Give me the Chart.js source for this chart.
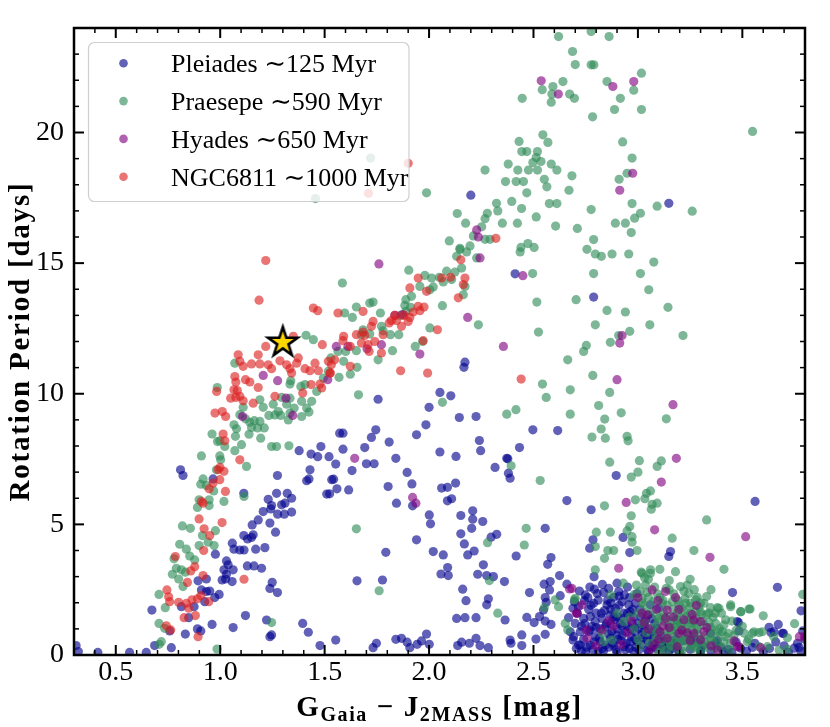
<!DOCTYPE html>
<html><head><meta charset="utf-8">
<script src="https://cdn.jsdelivr.net/npm/chart.js@4.4.1/dist/chart.umd.min.js"></script>
<style>html,body{margin:0;padding:0;background:#fff;}canvas{display:block;}</style>
</head><body>
<canvas id="c" width="830" height="727"></canvas>
<script>
// ---------- DATA ----------
const clusterLabels = ['Pleiades \u223C125 Myr', 'Praesepe \u223C590 Myr', 'Hyades \u223C650 Myr', 'NGC6811 \u223C1000 Myr'];
const yTitle = 'Rotation Period [days]';

// [G-J colour (mag), rotation period (days)]
const pleiades = [
[2.20,17.60],[3.148,17.29],[1.378,7.82],[1.435,7.69],[1.467,7.59],[1.482,7.98],[1.521,7.59],
[2.412,14.59],[2.172,11.21],[2.167,11.01],[2.052,10.05],[2.104,9.92],[2.0,9.48],[2.145,9.09],[2.225,9.13],[1.985,8.81],[1.94,8.43],[1.809,8.15],[1.756,9.79],[1.572,8.49],[1.588,8.49],[1.724,8.33],[1.745,8.62],[1.692,7.94],[1.588,7.88],[1.841,7.53],[2.052,7.77],[2.129,7.6],[2.241,8.21],[2.247,7.82],[2.372,7.53],[2.433,7.94],[2.497,8.62],[2.616,8.59],
[2.788,13.7],
[0.81,7.09],[0.822,6.87],[0.966,6.74],[1.274,6.87],[1.43,7.09],[1.425,6.74],[1.414,6.67],[1.534,6.71],[1.51,6.16],[1.113,6.19],[1.27,6.19],[1.321,6.19],[1.342,6.0],[1.31,5.81],[1.294,5.75],[1.23,5.96],[1.246,5.72],[1.242,5.59],[1.206,5.49],[1.275,5.39],[1.307,5.39],[1.342,5.47],[1.182,5.17],[1.153,4.98],[1.238,5.05],[1.265,4.7],[1.113,4.57],[1.131,4.44],[1.158,4.6],[1.15,4.5],[1.058,4.28],[1.066,4.05],[1.094,4.02],[1.114,4.02],[1.17,4.05],[1.214,4.11],[0.977,3.86],[1.03,3.6],[1.038,3.45],[1.018,3.26],[1.062,3.26],[1.03,3.09],[1.009,2.87],[1.026,2.91],[1.057,2.81],[1.13,3.41],[1.162,3.41],[1.198,3.32],[1.249,2.78],[1.238,2.55],[1.274,2.39],[0.894,2.84],[0.934,2.91],[0.91,2.49],[0.934,2.43],[0.95,2.45],[0.995,2.32],[0.974,2.2],[0.926,2.04],[0.814,1.85],[0.875,1.85],[0.673,1.72],[0.849,1.43],[1.121,1.51],[0.961,1.17],[1.062,1.05],[1.222,1.34],[0.891,1.0],[0.907,0.92],[0.833,0.8],[0.758,0.92],[1.246,0.77],[1.238,0.7],[1.395,1.21],[1.422,0.87],[1.478,0.36],[0.686,0.36],[0.766,0.28],[0.31,0.36],[0.321,0.13],[0.414,0.1],[0.566,0.1],[0.646,0.1],
[1.553,7.31],[1.631,7.06],[1.7,7.32],[1.737,7.32],[1.543,6.73],[1.559,6.36],[1.615,6.32],[1.524,6.17],[1.804,6.45],[1.844,5.81],[1.895,6.99],[1.918,6.55],[1.921,5.71],[2.06,6.39],[2.088,6.42],[2.127,6.58],[2.088,5.9],[2.108,5.98],[2.001,5.36],[2.007,5.02],[1.94,4.41],[1.793,3.93],[2.02,3.96],[2.068,3.83],[2.152,5.34],[2.209,5.52],[2.209,5.2],[2.204,4.85],[2.257,5.11],[2.152,4.64],[2.169,4.25],[2.185,3.83],[2.216,3.98],[2.297,4.51],[2.324,4.62],[2.26,3.45],[2.233,3.09],[2.276,3.04],[2.308,3.0],[2.361,2.81],[2.089,3.35],[2.057,3.1],[2.092,3.04],[1.655,2.84],[1.777,2.87],[2.161,2.52],[2.177,2.08],[2.284,2.15],[2.276,1.92],[2.364,1.34],[2.132,1.4],[2.172,1.43],[2.225,1.43],[1.553,0.57],[1.732,0.28],[1.748,0.45],[1.841,0.6],[1.868,0.64],[1.895,0.49],[1.908,0.28],[1.943,0.41],[1.964,0.54],[1.988,0.8],[2.001,0.41],[2.137,0.36],[2.156,0.49],[2.193,0.45],[2.225,0.64],[2.244,0.36],[2.284,0.28],[2.388,0.57],[2.392,0.45],[2.444,0.77],[2.444,0.36],[2.512,0.61],[2.316,7.18],[2.377,7.51],[2.38,6.96],[2.388,6.77],[2.556,4.85],[2.66,5.91],[2.417,3.79],[2.584,3.73],[2.568,3.47],[2.625,3.04],[2.58,2.81],[2.551,2.71],[2.577,2.49],[2.66,2.71],[2.481,2.39],[2.556,2.2],[2.561,2.02],[2.548,1.72],[2.628,2.27],[2.468,1.44],[2.503,1.24],[2.529,1.47],[2.556,1.3],[2.584,1.17],[2.556,0.79],[2.668,1.43],[2.689,1.79],[2.676,0.89],[2.689,0.57],[2.716,0.38],
[2.896,6.87],[2.776,5.56],[3.561,5.88],[2.929,4.5],[2.785,4.41],[2.769,4.09],[2.961,3.92],[3.156,3.96],[3.148,3.77],[2.9,2.75],[3.668,2.59],[3.453,2.39],[3.781,1.69],[3.789,0.92],[3.628,1.06],[3.652,0.89],[3.692,0.83],[3.476,1.28],
[2.908,2.43],[2.884,2.21],[2.836,2.39],[2.792,2.52],[2.748,2.3],[2.744,2.08],[2.788,1.98],[2.764,1.75],[2.696,2.04],[2.852,1.92],[2.892,1.79],[2.924,2.04],[2.956,1.92],[2.988,1.98],[2.964,1.66],[2.868,1.53],[2.828,1.4],[2.796,1.28],[2.772,1.47],[2.74,1.4],[2.7,1.21],[2.692,0.7],[2.724,0.89],[2.764,0.89],[2.796,0.7],[2.82,0.51],[2.772,0.38],[2.844,0.38],[2.868,0.64],[2.9,0.77],[2.924,1.09],[2.94,0.89],[2.972,1.21],[2.988,0.89],[3.004,1.02],[3.02,0.77],[2.964,0.51],[2.996,0.51],[3.044,0.57],[3.068,0.89],[3.076,0.64],[3.06,0.32],[2.932,0.32],[2.884,0.35],[2.724,0.38],[2.868,1.21],[2.9,1.47],[2.932,1.6],[3.036,1.34],[3.06,1.92],[3.1,1.79],
[2.75,0.12],[2.81,0.15],[2.9,0.1],[2.98,0.15],[3.05,0.12],[3.12,0.2],[3.2,0.1],[3.3,0.12],[3.45,0.1],[3.6,0.12],[3.72,0.1],
[3.481,1.24],[3.484,0.92],[3.637,0.86],[3.672,1.17],[3.697,0.83],[3.748,0.26],[3.772,0.29],[3.764,0.45],[3.372,0.47],[3.396,0.29],[3.432,0.22],[3.492,0.26],[3.548,0.29],[3.26,0.58],[3.3,0.19],[3.348,0.83],
[2.71,1.6],[2.73,1.1],[2.74,0.6],[2.76,2.2],[2.78,1.1],[2.79,0.5],[2.8,1.6],[2.81,2.1],[2.82,1.0],[2.83,0.25],[2.84,1.7],[2.85,1.2],[2.86,0.8],[2.87,2.0],[2.88,0.45],[2.89,1.35],[2.9,1.0],[2.91,2.25],[2.92,0.55],[2.93,1.4],[2.94,0.2],[2.95,1.1],[2.96,2.2],[2.97,0.7],[2.98,1.45],[2.99,0.3],[3.0,1.2],[3.01,1.75],[3.02,0.4],[3.03,0.95],[3.05,1.55],[3.07,0.45],[3.08,1.2],[3.09,0.25],[3.11,0.75],[3.13,0.5],[3.15,0.15],[3.17,0.45],[3.19,0.2],[3.22,0.55],[3.25,0.22],[3.28,0.5],[3.31,0.35],[3.35,0.15],[3.38,0.55],[3.41,0.12],[3.47,0.5],[3.52,0.15],[3.56,0.45],[3.63,0.25],[3.66,0.5],[3.7,0.35],[3.78,0.15],[3.8,0.6],[2.72,2.45],[2.77,2.6],[2.83,2.7],[2.86,2.55],[2.95,2.6],[2.79,3.0],
[2.705,0.25],[2.715,1.85],[2.73,0.15],[2.745,1.2],[2.755,0.3],[2.77,0.95],[2.775,1.9],[2.785,0.2],[2.8,1.05],[2.805,2.35],[2.815,0.65],[2.825,1.6],[2.835,0.15],[2.845,1.1],[2.855,2.1],[2.86,0.3],[2.87,1.75],[2.875,0.9],[2.885,1.45],[2.895,0.2],[2.905,0.6],[2.91,1.9],[2.915,1.2],[2.925,0.75],[2.935,2.3],[2.945,0.45],[2.95,1.6],[2.96,0.25],[2.965,1.0],[2.975,1.75],[2.985,0.6],[2.995,2.35],[3.005,0.2],[3.015,1.45],[3.025,0.65],[3.035,1.1],[3.045,0.2],[3.055,0.75],[3.065,1.4],[3.075,0.3],[3.09,1.0],[3.105,0.5],[3.12,0.3],[3.14,0.4],[3.16,0.25],[3.18,0.6]
];

const praesepe = [
[1.72,19.02],[1.456,17.47],
[2.62,23.67],[2.687,23.1],[2.70,22.6],[2.641,21.95],[2.593,21.76],[2.542,21.64],[2.588,21.47],[2.673,21.47],[2.696,21.31],[2.585,21.16],[2.446,21.31],[2.545,19.91],[2.431,19.66],[2.569,19.62],[2.444,19.27],[2.468,19.27],[2.519,19.27],[2.513,19.04],[2.497,18.85],[2.536,18.89],[2.379,18.79],[2.585,18.79],[2.612,18.56],[2.425,18.56],[2.476,18.56],[2.519,18.56],[2.684,18.34],[2.552,18.21],[2.268,18.56],[2.366,18.12],[2.417,18.12],[2.452,18.12],[2.564,17.92],[2.670,17.79],[2.468,17.69],[1.988,17.69],[2.323,17.29],[2.396,17.36],[2.443,17.09],[2.576,17.28],[2.612,17.28],[2.135,16.90],[2.279,16.91],[2.329,17.00],[2.268,16.70],[2.175,16.53],[2.351,16.53],[2.423,16.53],[2.513,16.77],[2.606,16.42],[2.71,16.33],[2.252,16.39],[2.212,16.04],[2.268,15.91],[2.292,15.91],[2.097,15.85],[2.196,15.66],[2.148,15.57],[2.44,15.6],[2.473,15.75],[2.503,15.6],
[2.776,23.87],[2.862,23.67],[2.776,22.59],[2.789,22.59],[3.017,22.27],[2.852,21.95],[2.98,21.62],[2.916,21.31],[2.888,20.88],[3.017,20.88],[2.783,20.6],[3.549,20.04],[2.927,19.64],[2.972,19.02],[2.948,18.44],[2.91,18.21],[2.972,17.28],[3.092,17.18],[3.26,16.99],[2.776,17.05],[3.012,16.91],[2.984,16.72],[2.892,16.53],[2.94,16.53],[2.968,16.17],[2.788,15.90],[2.756,15.53],
[1.411,12.24],[1.446,12.07],[1.07,11.17],[0.986,10.24],[1.19,9.77],[1.206,9.48],[1.11,9.48],[1.338,10.50],[1.334,10.37],[1.386,10.28],[1.406,10.35],[1.39,9.71],[1.438,9.71],[1.414,9.45],[1.425,9.30],[1.39,9.13],[1.354,9.45],[1.334,9.26],[1.318,9.60],[1.294,9.86],[1.334,9.83],[1.254,9.60],[1.278,9.32],[1.262,9.19],[1.233,9.17],[1.29,9.17],[1.326,9.00],[1.462,10.09],[1.494,10.60],[1.518,10.86],[1.53,11.37],[1.094,9.20],[1.121,9.04],[1.142,8.91],[1.163,8.97],[1.15,8.71],[1.179,8.69],[1.211,8.69],[1.19,8.94],[1.066,8.81],[1.078,8.66],[0.961,8.46],[0.998,8.20],[1.022,7.98],[0.987,8.17],[1.073,8.37],[1.102,8.05],[1.07,7.82],[1.138,8.45],[1.194,8.30],[1.246,7.98],[1.27,7.98],[1.329,8.01],[0.91,7.62],[0.998,7.62],[1.002,7.47],
[2.148,15.52],[2.18,15.43],[2.132,15.26],[2.228,15.2],[2.436,15.43],[1.585,14.24],[1.903,14.73],[1.98,14.53],[2.012,14.43],[2.049,14.46],[2.084,14.69],[2.124,14.66],[2.156,14.81],[2.108,14.37],[2.068,14.28],[2.02,14.09],[1.956,14.11],[2.004,13.98],[2.172,14.11],[2.164,13.79],[1.889,13.6],[1.916,13.73],[1.884,13.38],[1.912,13.31],[1.889,13.15],[1.864,13.0],[2.064,13.37],[2.004,12.52],[1.934,11.81],[1.969,12.0],[1.825,11.65],[1.756,11.3],[1.772,12.58],[1.78,12.41],[1.815,12.26],[1.855,12.26],[1.716,13.47],[1.732,13.51],[1.652,13.32],[1.596,13.09],[1.633,12.92],[1.767,13.09],[1.684,12.45],[1.676,12.26],[1.716,12.29],[1.564,11.62],[1.601,11.62],[1.652,11.65],[1.591,11.24],[1.623,10.75],[1.569,10.63],[1.655,11.01],[1.662,9.96],[2.064,9.67],[2.496,14.6],[2.516,13.51],[2.524,12.36],[2.704,13.6],[2.664,11.3],[2.543,10.37],[2.676,10.15],[2.561,9.86],[2.372,9.22],[2.416,9.39],[2.676,9.22],[2.236,12.64],
[2.796,15.35],[2.825,15.26],[2.876,15.35],[2.956,15.35],[3.076,15.04],[2.788,14.6],[3.012,14.6],[3.052,13.98],[2.852,13.19],[2.94,13.13],[3.144,13.31],[2.796,12.64],[3.057,12.64],[2.961,12.39],[2.908,12.23],[2.868,11.97],[3.216,12.23],[2.753,11.85],[2.74,11.62],[2.784,10.7],[2.865,10.05],[2.812,9.55],[2.92,9.27],[2.841,9.03],[3.136,9.04],[2.824,8.65],[2.78,8.34],[2.844,8.3],[2.948,8.37],[2.953,8.2],
[1.126,7.22],[0.982,7.09],[0.918,6.74],[0.907,6.54],[0.934,6.49],[0.969,6.28],[0.899,5.94],[0.891,5.65],[0.947,5.94],[0.947,5.72],[1.018,5.88],[1.114,6.07],[0.819,4.94],[0.857,4.85],[0.915,4.57],[0.942,4.32],[0.971,4.19],[0.977,4.76],[0.899,4.19],[0.806,4.24],[0.838,4.05],[0.854,3.79],[0.878,3.64],[0.779,3.68],[0.79,3.32],[0.771,3.09],[0.814,3.26],[0.801,2.91],[0.822,2.62],[0.833,3.17],[0.707,2.32],[0.737,1.81],[0.707,1.21],[0.734,1.02],[0.718,0.51],[0.708,0.41],[1.246,1.24],[0.985,0.23],
[2.393,7.24],[2.532,6.68],[1.652,4.83],[2.465,4.85],[2.28,4.3],[2.456,4.21],[1.761,2.46],[2.289,2.85],[2.329,1.6],[2.604,2.11],[2.62,1.85],[2.552,1.81],[2.652,1.21],[2.664,0.96],[2.696,2.11],
[2.865,7.38],[3.007,7.44],[3.112,7.43],[3.092,7.22],[2.968,6.81],[3.0,7.0],[3.041,6.19],[3.06,6.28],[3.033,5.98],[2.988,5.94],[3.068,5.77],[3.092,5.81],[3.064,5.58],[2.84,5.71],[2.968,5.33],[3.329,5.17],[2.961,4.92],[2.948,4.75],[2.972,4.53],[2.972,4.32],[2.868,4.7],[2.801,4.7],[2.796,4.15],[2.856,4.0],[2.884,4.0],[2.84,3.7],[2.996,4.0],[3.164,4.47],[3.268,4.0],[3.412,3.28],[2.796,3.26],[3.016,3.17],[3.06,3.26],[3.105,3.28],[3.18,3.19],[3.032,2.96],[2.993,2.68],[3.789,2.32],[3.204,2.62],[3.236,2.68],[3.244,2.36],[3.276,2.11],[3.292,1.85],[3.329,2.24],[3.348,1.81],[3.38,1.81],[3.444,1.85],[3.493,1.66],[3.532,1.76],[3.716,0.66],[3.596,0.89],[3.556,0.89],
[3.02,3.13],[3.06,3.13],[3.036,2.68],[3.172,2.34],[2.98,2.3],[3.02,2.17],[3.093,2.34],[2.7,2.17],[2.836,0.51],[2.828,0.83],[2.932,1.28],[2.876,0.57],[3.084,0.57],[3.1,0.96],[3.036,1.6],[3.02,1.21],[3.124,1.6],[3.156,1.47],[3.188,1.6],[3.22,1.66],[3.252,1.6],[3.148,1.15],[3.18,1.09],[3.212,1.21],[3.244,1.15],[3.268,1.28],[3.14,0.77],[3.172,0.7],[3.204,0.83],[3.236,0.64],[3.268,0.77],[3.156,0.38],[3.188,0.38],[3.228,0.32],[3.26,0.38],[3.116,1.98],[3.228,1.98],[3.196,1.92],
[3.17,1.3],[3.2,1.45],[3.23,1.0],[3.13,1.25],[3.25,0.5],[3.15,0.55],[3.18,0.9],[3.1,1.4],[3.28,1.4],[3.21,0.15],[3.14,0.2],
[3.388,1.79],[3.444,1.92],[3.492,1.66],[3.537,1.76],[3.509,0.83],[3.548,0.83],[3.58,0.86],[3.524,0.51],[3.58,0.32],[3.62,0.32],[3.676,0.19],[3.716,0.22],[3.284,2.21],[3.316,1.98],[3.252,1.98],[3.34,1.6],[3.3,1.66],[3.372,1.21],[3.412,1.15],[3.404,0.89],[3.432,0.83],[3.348,1.06],[3.284,0.8],[3.316,0.55],[3.348,0.64],[3.38,0.7],[3.284,0.3],[3.332,0.3],[3.38,0.38],[3.412,0.51],[3.444,0.45],
[2.96,1.45],[2.98,1.0],[3.0,0.6],[3.01,2.45],[3.03,1.9],[3.04,0.85],[3.05,2.2],[3.07,1.05],[3.08,2.6],[3.09,1.5],[3.11,0.3],[3.12,2.1],[3.13,0.9],[3.14,1.9],[3.15,2.5],[3.16,0.95],[3.17,1.75],[3.19,1.2],[3.19,2.1],[3.2,0.5],[3.21,1.8],[3.22,2.45],[3.23,0.6],[3.24,1.35],[3.25,1.85],[3.26,0.95],[3.27,2.5],[3.28,1.1],[3.29,0.45],[3.3,2.0],[3.31,1.3],[3.32,0.75],[3.33,1.55],[3.35,0.95],[3.36,1.45],[3.37,0.25],[3.39,1.0],[3.4,1.6],[3.42,0.7],[3.45,1.3],[3.47,0.95],[3.5,1.1],[3.53,0.6],[3.1,0.1],[3.2,0.05],[3.3,0.1],[2.9,1.6],[2.87,2.3],[2.93,2.75],[3.05,2.9],[3.15,2.85],[3.25,2.9],[3.35,2.5],[3.6,1.5],[3.65,0.7],[3.75,1.2],
[3.0,1.6],[3.01,0.35],[3.02,2.0],[3.035,1.25],[3.045,2.4],[3.055,0.45],[3.065,1.7],[3.075,2.05],[3.085,0.8],[3.095,1.25],[3.105,2.2],[3.115,0.55],[3.125,1.45],[3.135,2.55],[3.145,0.6],[3.155,1.05],[3.165,2.05],[3.175,0.3],[3.185,1.35],[3.195,0.55],[3.205,1.15],[3.215,0.9],[3.225,2.15],[3.235,1.5],[3.245,0.75],[3.255,1.25],[3.265,0.25],[3.275,1.65],[3.285,1.0],[3.295,0.6],[3.305,1.55],[3.315,1.15],[3.325,0.4],[3.34,1.25],[3.355,0.55],[3.37,1.6],[3.385,0.9],[3.4,0.3],[3.42,1.35],[3.44,0.2],[3.46,0.75]
];

const hyades = [
[2.537,21.98],[2.619,21.47],[2.228,16.27],[2.236,16.00],[2.88,21.76],[2.98,21.95],[2.975,18.44],[2.913,17.79],
[1.206,10.70],[1.275,10.50],[1.315,9.83],[1.347,9.17],[1.107,9.13],[1.515,10.54],[2.244,15.2],[1.76,14.97],[1.836,13.0],[1.873,13.03],[1.772,11.88],[1.703,11.72],[1.556,11.81],[1.612,11.81],[1.956,11.52],[2.185,12.92],[2.356,11.81],[2.449,14.52],[1.644,7.53],
[2.924,12.23],[2.913,11.94],[2.9,10.54],[3.168,9.58],[3.184,7.53],[1.921,6.03],[1.937,5.81],[2.673,2.53],[2.705,1.6],[3.112,6.62],[2.944,5.84],[3.08,4.79],[3.345,3.74],[3.516,4.53],[2.908,3.32],
[3.773,0.7],[3.588,0.28],[3.46,0.54],[3.484,0.32],[2.684,2.55],[2.732,1.92],[2.708,1.6],[3.02,1.6],[3.044,1.53],[3.089,1.75],[3.14,1.72],[3.132,1.4],[3.196,1.75],[3.105,0.89],[3.14,0.64],[3.196,0.83],[3.236,0.85],[3.188,0.32],[2.884,1.09],[2.828,0.96],[2.753,0.96],[2.756,0.64],[3.068,2.49],[3.132,2.43],[3.096,2.08],[3.3,1.28],[3.268,1.34],[3.3,0.58],[3.316,0.89],[3.268,0.83],[3.476,0.32],[3.797,0.7],
[2.97,1.3],[3.05,1.0],[3.12,1.1],[3.17,1.45],[3.22,1.35],[3.08,0.4],[3.25,0.55],[3.35,0.35],[2.92,0.4],[3.0,2.2],[3.18,2.2],[3.28,1.9],[2.8,0.35],
[2.95,0.85],[3.03,1.25],[3.1,0.6],[3.15,1.05],[3.21,0.95],[3.26,1.55],[3.33,1.05],[3.38,0.2],[2.86,1.3],[3.06,0.2]
];

const ngc6811 = [
[1.90,18.82],[1.71,17.67],[2.32,15.95],
[1.218,15.10],[1.186,13.58],[1.446,13.28],[1.467,13.18],[1.489,11.88],[1.218,11.81],[1.182,11.49],[1.086,11.49],[1.35,12.2],[1.094,11.24],[1.110,11.05],[1.150,11.14],[1.19,11.14],[1.23,11.11],[1.246,10.96],[1.286,11.26],[1.318,11.11],[1.334,10.96],[1.366,11.17],[1.374,11.37],[1.406,10.96],[1.43,10.88],[1.454,11.17],[1.47,10.88],[1.342,10.79],[1.518,11.24],[1.07,10.66],[1.121,10.54],[1.142,10.45],[1.075,10.45],[1.182,10.24],[0.983,10.09],[1.066,10.15],[1.082,10.12],[1.094,9.90],[1.110,9.73],[1.05,9.83],[1.075,9.86],[1.158,9.64],[1.262,9.90],[1.395,10.03],[1.435,10.35],[1.478,10.37],[1.486,10.22],[0.975,9.26],[1.01,9.32],[1.026,9.13],[1.014,8.46],[1.022,8.2],[1.094,7.47],[1.526,10.79],
[2.152,15.13],[1.948,14.43],[1.908,14.05],[1.988,13.92],[2.06,14.43],[2.103,14.46],[2.172,14.43],[2.164,14.18],[2.14,13.67],[1.948,13.35],[1.976,13.32],[1.956,13.18],[1.924,13.13],[1.908,12.92],[1.88,13.0],[1.836,13.0],[1.844,12.8],[1.82,12.8],[1.868,12.58],[1.9,12.77],[1.809,12.71],[1.732,12.77],[1.724,12.58],[1.684,12.36],[1.692,12.23],[1.652,12.26],[1.591,12.2],[1.588,12.03],[1.623,11.81],[1.676,11.94],[1.708,11.88],[1.713,11.62],[1.74,12.0],[1.78,12.26],[1.772,11.56],[1.564,13.09],[1.684,13.15],[1.548,11.3],[1.532,11.11],[1.623,11.05],[1.527,10.79],[1.972,12.03],[2.04,12.45],[1.864,10.88],[1.993,10.79],[2.441,10.56],
[0.999,7.18],[1.018,7.03],[0.99,7.09],[0.998,6.71],[0.966,6.58],[0.947,6.36],[1.025,6.26],[0.91,5.88],[0.918,5.81],[0.899,5.21],[1.009,5.07],[0.923,4.83],[0.95,4.57],[0.921,4.0],[0.785,3.77],[0.878,3.38],[0.859,3.22],[0.843,2.78],[0.918,3.04],[0.745,2.49],[0.753,2.23],[0.758,2.04],[0.801,2.02],[0.838,1.98],[0.849,1.79],[0.865,2.11],[0.891,2.15],[0.907,2.27],[0.945,2.04],[0.827,1.43],[0.881,1.51],[0.742,1.12],[0.763,0.96],[0.894,0.7],[1.114,2.9]
];

const targetStar = [[1.30, 12.0]];

const xMin = 0.3, xMax = 3.8, yMin = 0, yMax = 24;
const xTickValues = [0.5, 1.0, 1.5, 2.0, 2.5, 3.0, 3.5];
const yTickValues = [0, 5, 10, 15, 20];
const xMinorStep = 0.1, yMinorStep = 1;

// ---------- STYLE ----------
const FONT = '"Liberation Serif", "DejaVu Serif", serif';
const clusterColors = ['rgba(0,0,140,0.62)', 'rgba(46,139,87,0.62)', 'rgba(128,0,128,0.62)', 'rgba(220,30,30,0.62)'];

function makeStar(R) {
  const c = document.createElement('canvas');
  const s = Math.ceil(2 * R + 8);
  c.width = s; c.height = s;
  const g = c.getContext('2d');
  g.translate(s / 2, s / 2 + 1);
  g.beginPath();
  for (let i = 0; i < 10; i++) {
    const r = (i % 2) ? R * 0.382 : R;
    const a = -Math.PI / 2 + i * Math.PI / 5;
    g.lineTo(r * Math.cos(a), r * Math.sin(a));
  }
  g.closePath();
  g.fillStyle = '#FFD700';
  g.fill();
  g.lineWidth = 2.6;
  g.lineJoin = 'miter';
  g.strokeStyle = '#000';
  g.stroke();
  return c;
}

const toXY = arr => arr.map(p => ({x: p[0], y: p[1]}));
const seriesData = [pleiades, praesepe, hyades, ngc6811];

const datasets = seriesData.map((d, i) => ({
  label: clusterLabels[i],
  data: toXY(d),
  backgroundColor: clusterColors[i],
  borderWidth: 0,
  pointRadius: 4.6,
  order: 4 - i
}));
datasets.push({
  label: 'target',
  data: toXY(targetStar),
  pointStyle: makeStar(15.5),
  pointRadius: 16,
  order: 0
});

function spacedText(ctx, text, x, y, spacing) {
  let cx = x;
  for (const ch of text) {
    ctx.fillText(ch, cx, y);
    cx += ctx.measureText(ch).width + spacing;
  }
  return cx - x;
}
function spacedWidth(ctx, text, spacing) {
  let w = 0;
  for (const ch of text) w += ctx.measureText(ch).width + spacing;
  return w;
}

const decor = {
  id: 'decor',
  afterDatasetsDraw(chart) {
    const {ctx, chartArea: a, scales: {x, y}} = chart;
    ctx.save();
    ctx.strokeStyle = '#000';
    const line = (x1, y1, x2, y2) => { ctx.beginPath(); ctx.moveTo(x1, y1); ctx.lineTo(x2, y2); ctx.stroke(); };
    const nx = Math.round((xMax - xMin) / xMinorStep);
    for (let k = 0; k <= nx; k++) {
      const v = xMin + k * xMinorStep;
      const maj = xTickValues.some(t => Math.abs(t - v) < 1e-6);
      const px = x.getPixelForValue(v);
      const L = maj ? 10 : 5;
      ctx.lineWidth = maj ? 2 : 1.5;
      line(px, a.bottom, px, a.bottom - L);
      line(px, a.top, px, a.top + L);
    }
    const ny = Math.round((yMax - yMin) / yMinorStep);
    for (let k = 0; k <= ny; k++) {
      const v = yMin + k * yMinorStep;
      const maj = yTickValues.some(t => Math.abs(t - v) < 1e-6);
      const py = y.getPixelForValue(v);
      const L = maj ? 10 : 5;
      ctx.lineWidth = maj ? 2 : 1.5;
      line(a.left, py, a.left + L, py);
      line(a.right, py, a.right - L, py);
    }
    ctx.lineWidth = 2.5;
    ctx.strokeRect(a.left, a.top, a.right - a.left, a.bottom - a.top);

    // legend
    const bx = 88.5, by = 42.5, bw = 320.5, bh = 159, r = 6;
    ctx.beginPath();
    ctx.moveTo(bx + r, by);
    ctx.arcTo(bx + bw, by, bx + bw, by + bh, r);
    ctx.arcTo(bx + bw, by + bh, bx, by + bh, r);
    ctx.arcTo(bx, by + bh, bx, by, r);
    ctx.arcTo(bx, by, bx + bw, by, r);
    ctx.closePath();
    ctx.fillStyle = 'rgba(255,255,255,0.8)';
    ctx.fill();
    ctx.lineWidth = 1.2;
    ctx.strokeStyle = '#cfcfcf';
    ctx.stroke();
    ctx.font = '26px ' + FONT;
    ctx.textAlign = 'left';
    ctx.textBaseline = 'alphabetic';
    for (let i = 0; i < 4; i++) {
      const ds = chart.data.datasets[i];
      const my = 63.3 + i * 37.8;
      ctx.beginPath();
      ctx.arc(123.5, my, 4.3, 0, Math.PI * 2);
      ctx.fillStyle = ds.backgroundColor;
      ctx.fill();
      ctx.fillStyle = '#000';
      ctx.fillText(ds.label, 171, my + 9);
    }

    // x-axis title with subscripts
    const sp = 1.6;
    const parts = [
      {t: 'G', s: 29, dy: 0}, {t: 'Gaia', s: 20, dy: 5},
      {t: ' \u2212 J', s: 29, dy: 0}, {t: '2MASS', s: 20, dy: 5},
      {t: ' [mag]', s: 29, dy: 0}
    ];
    let w = 0;
    parts.forEach(p => { ctx.font = 'bold ' + p.s + 'px ' + FONT; p.w = spacedWidth(ctx, p.t, sp); w += p.w; });
    let cx = (a.left + a.right) / 2 - w / 2;
    const base = 716;
    ctx.fillStyle = '#000';
    parts.forEach(p => { ctx.font = 'bold ' + p.s + 'px ' + FONT; spacedText(ctx, p.t, cx, base + p.dy, sp); cx += p.w; });

    // y-axis title (rotated)
    ctx.font = 'bold 29px ' + FONT;
    const yw = spacedWidth(ctx, yTitle, 1.8);
    ctx.translate(29, (a.top + a.bottom) / 2);
    ctx.rotate(-Math.PI / 2);
    spacedText(ctx, yTitle, -yw / 2, 0, 1.8);
    ctx.restore();
  }
};

new Chart(document.getElementById('c'), {
  type: 'scatter',
  data: {datasets},
  options: {
    responsive: false,
    animation: false,
    devicePixelRatio: 1,
    events: [],
    layout: {padding: {left: 0, right: 25, top: 28, bottom: 0}},
    plugins: {legend: {display: false}, tooltip: {enabled: false}},
    scales: {
      x: {
        type: 'linear', min: xMin, max: xMax,
        afterBuildTicks: s => { s.ticks = xTickValues.map(v => ({value: v})); },
        afterFit: s => { s.height = 72; },
        grid: {display: false, drawTicks: false},
        border: {display: false},
        ticks: {font: {family: FONT, size: 28}, color: '#000', padding: 1, maxRotation: 0, autoSkip: false,
                callback: v => Number(v).toFixed(1)}
      },
      y: {
        type: 'linear', min: yMin, max: yMax,
        afterBuildTicks: s => { s.ticks = yTickValues.map(v => ({value: v})); },
        afterFit: s => { s.width = 74; },
        grid: {display: false, drawTicks: false},
        border: {display: false},
        ticks: {font: {family: FONT, size: 28}, color: '#000', padding: 10, autoSkip: false,
                callback: v => String(v)}
      }
    }
  },
  plugins: [decor]
});
</script>
</body></html>
